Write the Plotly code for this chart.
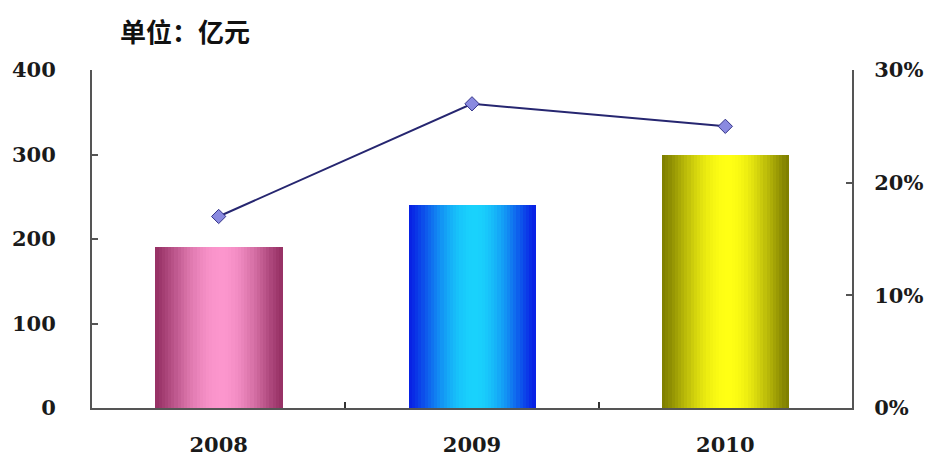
import math
import plotly.graph_objects as go

years = ["2008", "2009", "2010"]
amount = [190, 240, 300]          # 亿元
growth = [17, 27, 25]             # %
y_ticks = [0, 100, 200, 300, 400]
y2_ticks = [0, 10, 20, 30]
y2_labels = ["0%", "10%", "20%", "30%"]

edge_colors = [(150, 48, 100), (8, 30, 228), (125, 125, 0)]
center_colors = [(252, 150, 205), (25, 210, 252), (255, 255, 20)]

N = 40
W = 0.5
PEAK = 0.52

def mix(a, b, f):
    return "rgb(%d,%d,%d)" % tuple(round(a[k] + (b[k] - a[k]) * f) for k in range(3))

fig = go.Figure()
for i in range(N):
    t = (i + 0.5) / N
    d = (t - PEAK) / (PEAK if t < PEAK else 1 - PEAK)
    f = math.cos(d * math.pi / 2) ** 1.2
    cols = [mix(edge_colors[c], center_colors[c], f) for c in range(3)]
    fig.add_trace(go.Bar(
        x=years, y=amount, width=W / N + 0.002, offset=-W / 2 + i * W / N,
        marker=dict(color=cols, line=dict(width=0)),
        showlegend=False, hoverinfo="skip" if i else "x+y",
    ))

fig.add_trace(go.Scatter(
    x=years, y=growth, yaxis="y2", mode="lines+markers",
    line=dict(color="#262670", width=2),
    marker=dict(symbol="diamond", size=11, color="#8a8ae0",
                line=dict(color="#333388", width=1)),
    showlegend=False,
))

tickfont = dict(family="DejaVu Serif", size=21, color="#1a1a1a", weight="bold")

fig.update_layout(
    width=940, height=459,
    margin=dict(l=92, r=88, t=70, b=51, autoexpand=False),
    paper_bgcolor="white", plot_bgcolor="white",
    barmode="overlay", bargap=0,
    xaxis=dict(
        showline=True, linecolor="#555555", linewidth=2,
        ticks="inside", ticklen=6, tickcolor="#333333", tickwidth=2,
        tickson="boundaries", tickfont=tickfont, ticklabelstandoff=17,
        showgrid=False, automargin=False,
    ),
    yaxis=dict(
        range=[0, 400], tickvals=y_ticks, showline=True, linecolor="#555555",
        linewidth=2, ticks="inside", ticklen=6, tickcolor="#555555", tickwidth=2,
        tickfont=tickfont, showgrid=False, zeroline=False, ticklabelstandoff=30,
        automargin=False,
    ),
    yaxis2=dict(
        range=[0, 30], tickvals=y2_ticks, ticktext=y2_labels, overlaying="y",
        side="right", showline=True, linecolor="#555555", linewidth=2,
        ticks="inside", ticklen=6, tickcolor="#555555", tickwidth=2,
        tickfont=tickfont, showgrid=False, zeroline=False, ticklabelstandoff=16,
        automargin=False,
    ),
    annotations=[dict(
        text="单位：亿元", xref="paper", yref="paper", x=(118 - 92) / 760,
        y=1 + 40 / 338, xanchor="left", yanchor="middle", showarrow=False,
        font=dict(family="Noto Sans CJK SC", size=26, color="#111111", weight="bold"),
    )],
)

fig.write_html("out.html")
